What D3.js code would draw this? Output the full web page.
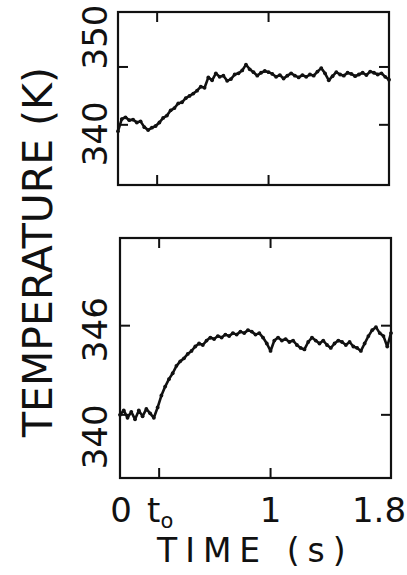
<!DOCTYPE html>
<html>
<head>
<meta charset="utf-8">
<script src="https://cdn.jsdelivr.net/npm/d3@7/dist/d3.min.js"></script>
<style>
  body { margin: 0; background: #fff; }
  text { font-family: "DejaVu Sans", sans-serif; fill: #111; }
</style>
</head>
<body>
<svg id="chart" width="407" height="575"></svg>
<script>
// sample times: 0 .. 1.8 s every 0.025 s
var sampleStep = 0.025;

// upper trace (K)
var upperTemp = [
  338.9, 341.0, 341.3, 340.8, 340.9, 340.4, 340.6, 339.6, 339.1, 339.5,
  339.8, 340.4, 341.2, 341.6, 342.5, 342.9, 343.7, 343.9, 344.6, 345.0,
  345.4, 345.9, 346.6, 346.4, 348.2, 347.7, 348.9, 348.3, 348.5, 347.6,
  347.9, 348.7, 348.9, 349.4, 350.4, 349.6, 349.1, 348.5, 349.0, 349.3,
  349.1, 348.8, 348.3, 348.6, 348.0, 348.5, 348.9, 348.5, 348.2, 348.6,
  348.3, 348.7, 348.5, 349.2, 349.8, 348.9, 347.7, 348.4, 349.1, 348.7,
  348.5, 349.0, 348.8, 348.4, 348.7, 349.0, 348.6, 349.2, 349.0, 348.7,
  348.9, 348.3, 347.8
];

// lower trace (K)
var lowerTemp = [
  340.0, 340.3, 339.8, 340.2, 339.7, 340.3, 339.9, 340.4, 340.1, 339.8,
  340.5, 341.3, 341.9, 342.4, 342.8, 343.3, 343.6, 343.8, 344.1, 344.3,
  344.6, 344.8, 344.7, 345.0, 345.2, 345.1, 345.3, 345.2, 345.4, 345.3,
  345.5, 345.4, 345.6, 345.5, 345.7, 345.6, 345.4, 345.5, 345.2, 344.8,
  344.3, 345.0, 345.2, 345.0, 345.1, 344.9, 345.0, 344.7, 344.5, 344.4,
  344.9, 345.2, 345.0, 344.8, 345.0, 344.7, 344.5, 344.8, 345.0, 344.9,
  344.7, 344.9, 344.6, 344.5, 344.3, 344.8, 345.3, 345.7, 345.9, 345.5,
  345.3, 344.6, 345.5
];

var upperTicks = [340, 350];
var lowerTicks = [340, 346];
var timeTicks = [0, 0.26, 1, 1.8];
var timeLabels = ["0", "t", "1", "1.8"];

var svg = d3.select("#chart");

var panels = [
  { values: upperTemp, ticks: upperTicks, domain: [329.6, 359.5],
    left: 118, right: 389, top: 12, bottom: 185, labelShift: [9, -30] },
  { values: lowerTemp, ticks: lowerTicks, domain: [335.75, 351.9],
    left: 120, right: 391, top: 238, bottom: 478, labelShift: [22, 4] }
];

panels.forEach(function(p) {
  var x = d3.scaleLinear().domain([0, 1.8]).range([p.left, p.right]);
  var y = d3.scaleLinear().domain(p.domain).range([p.bottom, p.top]);
  p.x = x; p.y = y;

  var g = svg.append("g").attr("class", "panel");

  g.append("rect")
    .attr("x", p.left).attr("y", p.top)
    .attr("width", p.right - p.left).attr("height", p.bottom - p.top)
    .attr("fill", "none").attr("stroke", "#111").attr("stroke-width", 2.2);

  // inward ticks on all four sides
  var inner = timeTicks.slice(1, 3);
  g.selectAll(".xt-bot").data(inner).enter().append("line")
    .attr("x1", x).attr("x2", x)
    .attr("y1", p.bottom).attr("y2", p.bottom - 10);
  g.selectAll(".xt-top").data(inner).enter().append("line")
    .attr("x1", x).attr("x2", x)
    .attr("y1", p.top).attr("y2", p.top + 10);
  g.selectAll(".yt-l").data(p.ticks).enter().append("line")
    .attr("x1", p.left).attr("x2", p.left + 10)
    .attr("y1", y).attr("y2", y);
  g.selectAll(".yt-r").data(p.ticks).enter().append("line")
    .attr("x1", p.right).attr("x2", p.right - 10)
    .attr("y1", y).attr("y2", y);
  g.selectAll("line").attr("stroke", "#111").attr("stroke-width", 2);

  // rotated tick labels
  g.selectAll(".ylab").data(p.ticks).enter().append("text")
    .attr("transform", function(d, i) {
      return "translate(107," + (y(d) + p.labelShift[i]) + ") rotate(-90)";
    })
    .attr("text-anchor", "middle")
    .style("font-size", "34px")
    .text(function(d) { return d; });

  var line = d3.line()
    .x(function(d, i) { return x(i * sampleStep); })
    .y(function(d) { return y(d); });

  g.append("path")
    .datum(p.values)
    .attr("d", line)
    .attr("fill", "none")
    .attr("stroke", "#111")
    .attr("stroke-width", 2.6)
    .attr("stroke-linejoin", "round")
    .attr("stroke-linecap", "round");

  // blotchy recorder dots
  g.selectAll(".pt").data(p.values).enter().append("circle")
    .attr("cx", function(d, i) { return x(i * sampleStep); })
    .attr("cy", y)
    .attr("r", 1.9)
    .attr("fill", "#111");
});

// time labels under lower panel
var xb = panels[1].x;
var xl = svg.append("g");
timeTicks.forEach(function(t, i) {
  var shift = [1, 1, 0, -12][i];
  var txt = xl.append("text")
    .attr("x", xb(t) + shift).attr("y", 522)
    .attr("text-anchor", "middle")
    .style("font-size", "34px")
    .text(timeLabels[i]);
  if (timeLabels[i] === "t") {
    txt.append("tspan").attr("dy", 6).style("font-size", "21px").text("o");
  }
});

svg.append("text")
  .attr("x", 157).attr("y", 562)
  .style("font-size", "33px")
  .style("letter-spacing", "8px")
  .text("TIME (s)");

svg.append("text")
  .attr("transform", "translate(52,252) rotate(-90)")
  .attr("text-anchor", "middle")
  .style("font-size", "41px")
  .text("TEMPERATURE (K)");
</script>
</body>
</html>
